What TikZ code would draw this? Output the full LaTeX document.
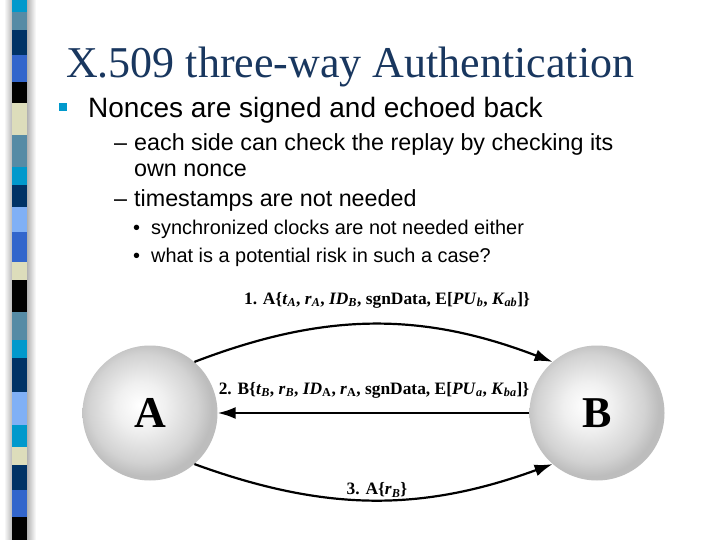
\documentclass[tikz,border=0pt]{standalone}
\usepackage{fontspec}
\setmainfont{Liberation Serif}
\setsansfont{Liberation Sans}
\usetikzlibrary{arrows.meta}

\definecolor{titleblue}{RGB}{25,55,95}
\definecolor{barcyan}{RGB}{0,153,204}
\definecolor{barsteel}{RGB}{86,139,165}
\definecolor{barnavy}{RGB}{0,51,102}
\definecolor{barroyal}{RGB}{51,102,204}
\definecolor{barbeige}{RGB}{221,221,187}
\definecolor{barlight}{RGB}{128,176,245}

\pgfdeclareradialshading{sphere}{\pgfpoint{-4bp}{3bp}}{color(0bp)=(white); color(9bp)=(gray!12); color(20bp)=(gray!35); color(25bp)=(gray!52); color(50bp)=(gray!52)}

\newcommand{\sub}[2]{\textit{#1}\textsubscript{\textit{#2}}}

\tikzset{
  msg/.style={-{Latex[length=18pt,width=12pt]}, line width=2.2pt},
  party/.style={circle, minimum size=135pt, inner sep=0pt, shading=sphere,
    font=\bfseries\fontsize{44}{44}\selectfont},
  msglabel/.style={inner sep=0pt, font=\bfseries\fontsize{17.4}{17.4}\selectfont},
  lvlone/.style={anchor=base west, inner sep=0pt, font=\sffamily\fontsize{28}{28}\selectfont},
  lvltwo/.style={anchor=base west, inner sep=0pt, font=\sffamily\fontsize{23.3}{23.3}\selectfont},
  lvlthree/.style={anchor=base west, inner sep=0pt, font=\sffamily\fontsize{19.9}{19.9}\selectfont}
}

\begin{document}
\begin{tikzpicture}[x=1pt, y=-1pt]
 \useasboundingbox (0,0) rectangle (720,540);
 \fill[white] (0,0) rectangle (720,540);

 % striped bar on the left
 \shade[left color=white, right color=gray!55] (4,0) rectangle (12,540);
 \shade[left color=gray!60, right color=white] (27,0) rectangle (36,540);
 \fill[barcyan] (12,0) rectangle (27,12);
 \fill[barsteel] (12,12) rectangle (27,30);
 \fill[barnavy] (12,30) rectangle (27,55);
 \fill[barroyal] (12,55) rectangle (27,82);
 \fill[black] (12,82) rectangle (27,103);
 \fill[barbeige] (12,103) rectangle (27,135);
 \fill[barsteel] (12,135) rectangle (27,167);
 \fill[barcyan] (12,167) rectangle (27,185);
 \fill[barnavy] (12,185) rectangle (27,207);
 \fill[barlight] (12,207) rectangle (27,232);
 \fill[barroyal] (12,232) rectangle (27,262);
 \fill[barbeige] (12,262) rectangle (27,280);
 \fill[black] (12,280) rectangle (27,312);
 \fill[barsteel] (12,312) rectangle (27,340);
 \fill[barcyan] (12,340) rectangle (27,358);
 \fill[barnavy] (12,358) rectangle (27,392);
 \fill[barlight] (12,392) rectangle (27,425);
 \fill[barcyan] (12,425) rectangle (27,447);
 \fill[barbeige] (12,447) rectangle (27,465);
 \fill[barnavy] (12,465) rectangle (27,490);
 \fill[barroyal] (12,490) rectangle (27,517);
 \fill[black] (12,517) rectangle (27,540);

 % title and bullets
 \node (title) [anchor=base west, inner sep=0pt, text=titleblue,
   font=\fontsize{44}{44}\selectfont] at (66,78) {X.509 three-way Authentication};

 \fill[barcyan] (59,103) rectangle (67,111);
 \node[lvlone] (nonces) at (88,118) {Nonces are signed and echoed back};
 \node[lvltwo] (dashone) at (114,151) {–};
 \node[lvltwo] (check) at (134,151) {each side can check the replay by checking its};
 \node[lvltwo] (own) at (134,177) {own nonce};
 \node[lvltwo] (dashtwo) at (114,207) {–};
 \node[lvltwo] (stamps) at (134,207) {timestamps are not needed};
 \node[lvlthree] (dotone) at (133,235) {•};
 \node[lvlthree] (clocks) at (151,235) {synchronized clocks are not needed either};
 \node[lvlthree] (dottwo) at (133,262) {•};
 \node[lvlthree] (risk) at (151,262) {what is a potential risk in such a case?};

 % the two parties
 \node[party] (A) at (150,413) {A};
 \node[party] (B) at (597,413) {B};

 \draw[msg] (A.49) to[bend left=21] (B.131);
 \draw[msg] (B.west) -- (A.east);
 \draw[msg] (A.-49) to[bend right=20] (B.-131);

 \node[msglabel] (msgone) at (387,300)
   {1. A\{\sub{t}{A}, \sub{r}{A}, \sub{ID}{B}, sgnData, E[\sub{PU}{b}, \sub{K}{ab}]\}};
 \node[msglabel] (msgtwo) at (374,390)
   {2. B\{\sub{t}{B}, \sub{r}{B}, \textit{ID}\textsubscript{A}, \textit{r}\textsubscript{A}, sgnData, E[\sub{PU}{a}, \sub{K}{ba}]\}};
 \node[msglabel] (msgthree) at (377,490) {3. A\{\sub{r}{B}\}};
\end{tikzpicture}
\end{document}
